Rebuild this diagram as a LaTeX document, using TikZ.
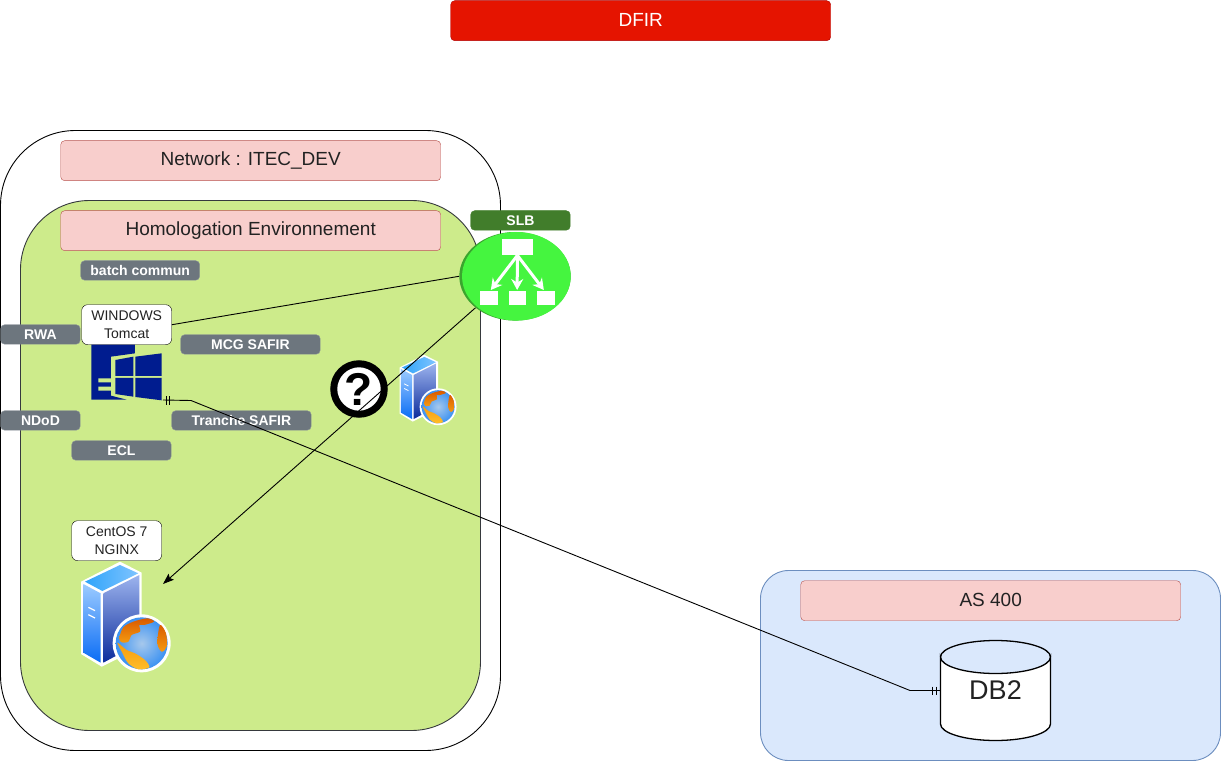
\documentclass[tikz,border=0pt]{standalone}
\usepackage{fontspec}
\setmainfont{Liberation Sans}
\usetikzlibrary{arrows.meta,calc,shapes.geometric}
\definecolor{grn}{HTML}{CDEB8B}
\definecolor{grnline}{HTML}{36393D}
\definecolor{pinkf}{HTML}{F8CECC}
\definecolor{pinkl}{HTML}{B85450}
\definecolor{tagf}{HTML}{6D767E}
\definecolor{tagl}{HTML}{8A9299}
\definecolor{winblue}{HTML}{001C8F}
\definecolor{slbf}{HTML}{45F53F}
\definecolor{slbd}{HTML}{3AA52E}
\definecolor{slbtagf}{HTML}{417D2B}
\definecolor{txt}{HTML}{222222}
\definecolor{asf}{HTML}{DAE8FC}
\definecolor{asl}{HTML}{6C8EBF}
\definecolor{dfirf}{HTML}{E51400}
\definecolor{dfirl}{HTML}{B20000}
\definecolor{srvLtop}{HTML}{9CCBFF}
\definecolor{srvLbot}{HTML}{0A6CF5}
\definecolor{srvRtop}{HTML}{9DB4EE}
\definecolor{srvRbot}{HTML}{0C2C9C}
\definecolor{srvTl}{HTML}{2FA4FA}
\definecolor{srvTr}{HTML}{7FC4FF}
\definecolor{globeI}{HTML}{A6C8EC}
\definecolor{globeO}{HTML}{3C92F2}
\definecolor{landA}{HTML}{D95A00}
\definecolor{landB}{HTML}{F59A10}
\definecolor{landC}{HTML}{FFBE2A}
\tikzset{
  boxat/.style={rectangle,inner sep=0pt,align=center,anchor=north west},
  titlebox/.style={boxat,draw=pinkl,fill=pinkf,rounded corners=4pt,minimum width=380pt,minimum height=40pt,font=\fontsize{19}{22}\selectfont,text=txt},
  tag/.style={boxat,draw=tagl,fill=tagf,rounded corners=4pt,minimum height=19.5pt,text=white,font=\fontsize{14}{16}\selectfont\bfseries},
  callout/.style={boxat,draw=black,fill=white,rounded corners=6pt,minimum width=90pt,minimum height=40pt,font=\fontsize{14}{17.5}\selectfont,text=txt},
  link/.style={draw=black,line width=0.9pt},
  whitebox/.style={fill=white,draw=none},
  slbarrow/.style={white,line width=3pt,-{Stealth[length=11pt,width=12pt]}}
}
\newcommand{\servericon}[3]{%
\begin{scope}[shift={(#1,#2)},scale=#3]
\begin{scope}[shift={(-21,-52)},scale=1/3]
 \fill[white] (180,155)--(245,188)--(245,410)--(125,470)--(63,432)--(63,215)--cycle;
 \shade[top color=srvLtop,bottom color=srvLbot] (70,222)--(122,250)--(122,458)--(70,428)--cycle;
 \shade[top color=srvRtop,bottom color=srvRbot] (130,250)--(238,195)--(238,400)--(130,458)--cycle;
 \shade[left color=srvTl,right color=srvTr] (180,165)--(235,190)--(127,243)--(75,215)--cycle;
 \draw[white,line width=#3*1.2pt] (85,292)--(105,302) (85,314)--(105,324);
 \fill[white] (245,400) circle (87);
 \shade[inner color=globeI,outer color=globeO] (245,400) circle (78);
 \shade[top color=landA,bottom color=landB] plot[smooth cycle] coordinates {(178,385)(190,352)(220,335)(262,325)(282,335)(252,345)(238,345)(240,365)(215,375)(205,395)(185,397)};
 \shade[top color=landA,bottom color=landB] plot[smooth cycle] coordinates {(300,345)(318,370)(320,410)(305,425)(292,400)};
 \shade[top color=landB,bottom color=landC] plot[smooth cycle] coordinates {(172,398)(200,420)(225,430)(255,450)(268,472)(235,478)(205,460)(188,430)};
\end{scope}
\end{scope}}
\begin{document}
\begin{tikzpicture}[x=1pt,y=-1pt]
\useasboundingbox (0,0) rectangle (1221,762);
% containers
\fill[white] (0,0) rectangle (1221,762);
\draw[black,line width=0.9pt,rounded corners=75pt] (0.5,130.5) rectangle (500.5,750.5);
\draw[grnline,fill=grn,line width=0.9pt,rounded corners=69pt] (20.5,200.5) rectangle (480.5,730.5);
\draw[draw=asl,fill=asf,line width=0.9pt,rounded corners=28pt] (760.5,570.5) rectangle (1220.5,760.5);
% titles
\node[titlebox,draw=dfirl,fill=dfirf,text=white] (dfir) at (450.5,0.5) {\raisebox{1pt}{DFIR}};
\node[titlebox] (network) at (60.5,140.5) {Network : ITEC\_DEV};
\node[titlebox] (homolog) at (60.5,210.5) {Homologation Environnement};
\node[titlebox] (as400) at (800.5,580.5) {\raisebox{1pt}{AS 400}};
% tags
\node[tag,minimum width=119pt] (batch) at (80.5,260.5) {batch commun};
\node[tag,minimum width=79.5pt] (rwa) at (0.5,324.5) {RWA};
\node[tag,minimum width=79.5pt] (ndod) at (0.5,410.5) {NDoD};
\node[tag,minimum width=99.5pt] (ecl) at (71.5,440.5) {ECL};
\node[tag,minimum width=139.5pt] (mcg) at (180.5,334.5) {MCG SAFIR};
\node[tag,minimum width=139.5pt] (tranche) at (171.5,410.5) {Tranche SAFIR};
\node[tag,minimum width=99.5pt,fill=slbtagf,draw=slbtagf] (slbtag) at (470.5,210.5) {SLB};
% windows icon
\begin{scope}[shift={(0,250)},x=0.33333pt,y=-0.33333pt]
 \fill[winblue] (274,280)--(405,280)--(405,310)--(333,320)--(333,437)--(380,449)--(274,449)--cycle;
 \fill[grn] (295,385)rectangle(333,397) (295,410)rectangle(333,422);
 \fill[winblue] (346,330)--(400,320)--(400,378)--(346,378)--cycle;
 \fill[winblue] (406,320)--(485,310)--(485,378)--(406,378)--cycle;
 \fill[winblue] (346,384)--(400,384)--(400,440)--(346,432)--cycle;
 \fill[winblue] (406,384)--(485,384)--(485,451)--(406,441)--cycle;
\end{scope}
\coordinate (winicon) at (163,400);
\node[callout] (winlabel) at (81.5,304.5) {WINDOWS\\Tomcat};
% servers
\servericon{81}{562}{1}
\servericon{399.5}{355}{0.636}
\coordinate (webtarget) at (163,584);
\node[callout] (centos) at (71.5,520.5) {CentOS 7\\NGINX};
% question mark
\node[circle,draw=black,fill=white,line width=7pt,minimum size=50.5pt,inner sep=0pt,font=\fontsize{46}{46}\selectfont\bfseries] (question) at (359,389) {?};
% DB2
\draw[black,fill=white,line width=1.3pt] (940.5,657) arc[start angle=180,end angle=0,x radius=55,y radius=16.5] -- (1050.5,724) arc[start angle=0,end angle=180,x radius=55,y radius=16.5] -- cycle;
\draw[black,line width=1.3pt] (940.5,657) arc[start angle=180,end angle=360,x radius=55,y radius=16.5];
\node[rectangle,inner sep=0pt,minimum width=110pt,minimum height=100pt,font=\fontsize{27}{30}\selectfont,text=txt] (db) at (995.5,690.5) {DB2};
% SLB
\fill[slbd] (515,276.3) ellipse[x radius=55.7,y radius=44.3];
\node[ellipse,fill=slbf,inner sep=0pt,minimum width=108.7pt,minimum height=88.6pt] (slbbright) at (516.4,276.3) {};
\node[ellipse,inner sep=0pt,minimum width=111.4pt,minimum height=88.6pt] (slb) at (515,276.3) {};
\node[whitebox,boxat,minimum width=31pt,minimum height=15.7pt] (slbtop) at (501.7,239.3) {};
\node[whitebox,boxat,minimum width=17.3pt,minimum height=14pt] (slbl) at (480,291) {};
\node[whitebox,boxat,minimum width=17.3pt,minimum height=14pt] (slbm) at (508.3,291) {};
\node[whitebox,boxat,minimum width=17.3pt,minimum height=14pt] (slbr) at (537,291) {};
\draw[slbarrow] (slbtop.south) -- ($(slbl.north)+(2,-1)$);
\draw[slbarrow] (slbtop.south) -- ($(slbm.north)+(0,-1)$);
\draw[slbarrow] (slbtop.south) -- ($(slbr.north)+(-2,-1)$);
% connectors
\draw[link] (winlabel.east) -- (slb.west);
\draw[link,-{Stealth[length=11pt,width=8pt,inset=2pt]}] (slb.south west) -- (webtarget);
\draw[link] (winicon) -- (191,400.5) -- (910,690.5) -- (db.west);
\draw[link] ($(winicon)+(3,-4)$) -- ($(winicon)+(3,4.5)$);
\draw[link] ($(winicon)+(6.5,-4)$) -- ($(winicon)+(6.5,4.5)$);
\draw[link] ($(db.west)+(-8,-4)$) -- ($(db.west)+(-8,4)$);
\draw[link] ($(db.west)+(-4,-4)$) -- ($(db.west)+(-4,4)$);
\end{tikzpicture}
\end{document}
